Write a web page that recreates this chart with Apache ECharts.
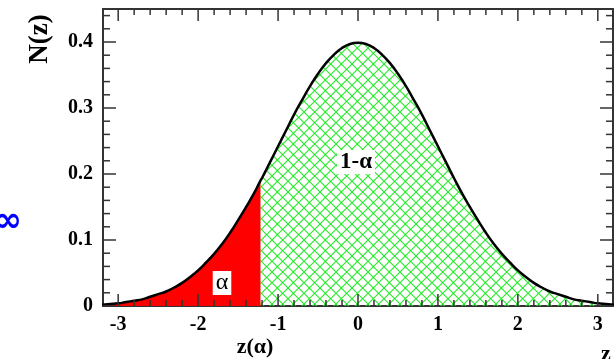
<!DOCTYPE html>
<html>
<head>
<meta charset="utf-8">
<title>N(z)</title>
<script src="https://cdn.jsdelivr.net/npm/echarts@6/dist/echarts.min.js"></script>
<style>
  html, body { margin: 0; padding: 0; background: #fff; }
  #chart { width: 616px; height: 359px; }
</style>
</head>
<body>
<div id="chart"></div>
<script>
// curve
var zValues = [-3.2, -3.1, -3.0, -2.9, -2.8, -2.7, -2.6, -2.5, -2.4, -2.3, -2.2, -2.1,
  -2.0, -1.9, -1.8, -1.7, -1.6, -1.5, -1.4, -1.3, -1.22, -1.2, -1.1,
  -1.0, -0.9, -0.8, -0.7, -0.6, -0.5, -0.4, -0.3, -0.2, -0.1,
  0, 0.1, 0.2, 0.3, 0.4, 0.5, 0.6, 0.7, 0.8, 0.9,
  1.0, 1.1, 1.2, 1.3, 1.4, 1.5, 1.6, 1.7, 1.8, 1.9,
  2.0, 2.1, 2.2, 2.3, 2.4, 2.5, 2.6, 2.7, 2.8, 2.9, 3.0, 3.1, 3.2];
var nValues = [0.002, 0.003, 0.004, 0.006, 0.008, 0.010, 0.014, 0.018, 0.022, 0.028, 0.035, 0.044,
  0.054, 0.066, 0.079, 0.094, 0.111, 0.130, 0.150, 0.171, 0.190, 0.194, 0.218,
  0.242, 0.266, 0.290, 0.312, 0.333, 0.352, 0.368, 0.381, 0.391, 0.397,
  0.399, 0.397, 0.391, 0.381, 0.368, 0.352, 0.333, 0.312, 0.290, 0.266,
  0.242, 0.218, 0.194, 0.171, 0.150, 0.130, 0.111, 0.094, 0.079, 0.066,
  0.054, 0.044, 0.035, 0.028, 0.022, 0.018, 0.014, 0.010, 0.008, 0.006, 0.004, 0.003, 0.002];
var zAlpha = -1.22;
var xRange = [-3.19, 3.19];
var yRange = [0, 0.45];

// tick marks on all four sides, pointing into the frame
var xMajorTicks = [-3, -2, -1, 0, 1, 2, 3];
var xMinorTicks = [-2.8, -2.6, -2.4, -2.2, -1.8, -1.6, -1.4, -1.2, -0.8, -0.6, -0.4, -0.2,
  0.2, 0.4, 0.6, 0.8, 1.2, 1.4, 1.6, 1.8, 2.2, 2.4, 2.6, 2.8];
var yMajorTicks = [0, 0.1, 0.2, 0.3, 0.4];
var yMinorTicks = [0.02, 0.04, 0.06, 0.08, 0.12, 0.14, 0.16, 0.18, 0.22, 0.24, 0.26, 0.28,
  0.32, 0.34, 0.36, 0.38, 0.42, 0.44];

var serif = '"Liberation Serif", "Times New Roman", serif';

var allPts = [], tailPts = [], restPts = [];
for (var i = 0; i < zValues.length; i++) {
  var p = [zValues[i], nValues[i]];
  allPts.push(p);
  if (zValues[i] <= zAlpha) tailPts.push(p);
  if (zValues[i] >= zAlpha) restPts.push(p);
}

// cross hatch tile for the 1-alpha area
function hatch() {
  var s = 32, c = document.createElement('canvas');
  c.width = s; c.height = s;
  var g = c.getContext('2d');
  g.strokeStyle = 'rgb(40,232,40)';
  g.lineWidth = 1.1;
  for (var k = -3; k <= 6; k++) {
    var o = k * s / 3;
    g.beginPath(); g.moveTo(o - s, -s); g.lineTo(o + 2 * s, 2 * s); g.stroke();
    g.beginPath(); g.moveTo(o + s, -s); g.lineTo(o - 2 * s, 2 * s); g.stroke();
  }
  return c;
}

function xAxisCfg(pos, labels) {
  return {
    type: 'value', position: pos, min: xRange[0], max: xRange[1], splitNumber: 6,
    axisLine: { show: true, onZero: false, lineStyle: { color: '#333', width: 2 } },
    axisTick: { show: false }, minorTick: { show: false }, splitLine: { show: false },
    axisLabel: {
      show: labels, margin: 9, color: '#000', fontFamily: serif, fontWeight: 'bold', fontSize: 20,
      formatter: function (v) { return Math.abs(v - Math.round(v)) < 1e-6 ? String(Math.round(v)) : ''; }
    }
  };
}
function yAxisCfg(pos, labels) {
  return {
    type: 'value', position: pos, min: yRange[0], max: yRange[1], interval: 0.1,
    axisLine: { show: true, onZero: false, lineStyle: { color: '#333', width: 2 } },
    axisTick: { show: false }, minorTick: { show: false }, splitLine: { show: false },
    axisLabel: {
      show: labels, margin: 10, color: '#000', fontFamily: serif, fontWeight: 'bold', fontSize: 20,
      showMaxLabel: false,
      formatter: function (v) { return v > 0.445 ? '' : String(Math.round(v * 10) / 10); }
    }
  };
}

var texts = [
  { type: 'text', x: 40, y: 39, rotation: Math.PI / 2,
    style: { text: 'N(z)', font: 'bold 27px ' + serif, fill: '#000', align: 'center', verticalAlign: 'middle' } },
  { type: 'text', x: 356, y: 162, z: 10,
    style: { text: '1-α', font: 'bold 23px ' + serif, fill: '#000', align: 'center', verticalAlign: 'middle',
      backgroundColor: '#fff', padding: [1, 3, 0, 3] } },
  { type: 'text', x: 222, y: 283, z: 10,
    style: { text: 'α', font: '24px ' + serif, fill: '#000', align: 'center', verticalAlign: 'middle',
      backgroundColor: '#fff', padding: [0, 3, 0, 3] } },
  { type: 'text', x: 255, y: 347,
    style: { text: 'z(α)', font: 'bold 22px ' + serif, fill: '#000', align: 'center', verticalAlign: 'middle' } },
  { type: 'text', x: 8, y: 222,
    style: { text: '∞', font: 'bold 34px "DejaVu Sans"', fill: '#0000ff', align: 'center', verticalAlign: 'middle' } },
  { type: 'text', x: 606, y: 343,
    style: { text: 'z', font: 'bold 22px ' + serif, fill: '#000', align: 'center', verticalAlign: 'top' } },
  { type: 'text', x: 609, y: 4,
    style: { text: 'z', font: 'bold 22px ' + serif, fill: '#000', align: 'center', verticalAlign: 'bottom' } }
];

var chart = echarts.init(document.getElementById('chart'));
chart.setOption({
  animation: false,
  grid: { left: 103, right: 1, top: 9, bottom: 53 },
  xAxis: [xAxisCfg('bottom', true), xAxisCfg('top', false)],
  yAxis: [yAxisCfg('left', true), yAxisCfg('right', false)],
  series: [
    {
      name: '1-α', type: 'line', data: restPts, smooth: true, showSymbol: false,
      lineStyle: { width: 0 },
      areaStyle: { color: { image: hatch(), repeat: 'repeat' }, opacity: 1 }
    },
    {
      name: 'α', type: 'line', data: tailPts, smooth: true, showSymbol: false,
      lineStyle: { width: 0 },
      areaStyle: { color: '#ff0000', opacity: 1 }
    },
    {
      name: 'N(z)', type: 'line', data: allPts, smooth: true, showSymbol: false, z: 4,
      lineStyle: { color: '#000', width: 2.5 }
    }
  ],
  graphic: texts
});

// ticks as graphic lines placed through the chart's own scales
var ticks = [];
function seg(a, b) {
  ticks.push({ type: 'line', z: 20, silent: true,
    shape: { x1: a[0], y1: a[1], x2: b[0], y2: b[1] },
    style: { stroke: '#333', lineWidth: 1.5 } });
}
function px(x, y) { return chart.convertToPixel({ gridIndex: 0 }, [x, y]); }
function xTicks(values, len) {
  values.forEach(function (v) {
    var b = px(v, yRange[0]), t = px(v, yRange[1]);
    seg(b, [b[0], b[1] - len]);
    seg(t, [t[0], t[1] + len]);
  });
}
function yTicks(values, len) {
  values.forEach(function (v) {
    var l = px(xRange[0], v), r = px(xRange[1], v);
    seg(l, [l[0] + len, l[1]]);
    seg(r, [r[0] - len, r[1]]);
  });
}
xTicks(xMajorTicks, 12);
xTicks(xMinorTicks, 6);
yTicks(yMajorTicks, 13);
yTicks(yMinorTicks, 7);

chart.setOption({ graphic: texts.concat(ticks) });
</script>
</body>
</html>
